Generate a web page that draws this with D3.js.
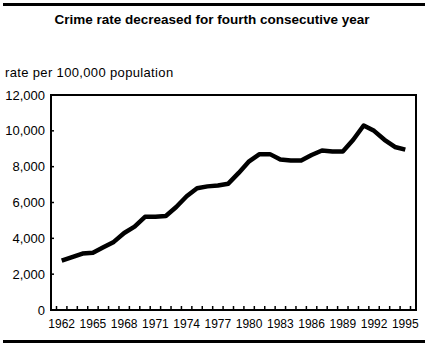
<!DOCTYPE html>
<html>
<head>
<meta charset="utf-8">
<script src="https://cdn.jsdelivr.net/npm/d3@7"></script>
<style>
  html, body { margin: 0; padding: 0; background: #fff; }
  svg { display: block; }
  text { font-family: "Liberation Sans", Arial, sans-serif; fill: #000; }
</style>
</head>
<body>
<svg id="chart" width="425" height="349"></svg>
<script>
const titleText = "Crime rate decreased for fourth consecutive year";
const unitText = "rate per 100,000 population";
const years = d3.range(1962, 1996);
const rates = [2750, 2950, 3150, 3200, 3500, 3800, 4300, 4650, 5200, 5200,
               5250, 5750, 6350, 6800, 6900, 6950, 7050, 7650, 8300, 8700,
               8700, 8400, 8350, 8350, 8650, 8900, 8850, 8850, 9500, 10300,
               10000, 9500, 9100, 8950];
const yTicks = [0, 2000, 4000, 6000, 8000, 10000, 12000];
const xLabelYears = [1962, 1965, 1968, 1971, 1974, 1977, 1980, 1983, 1986, 1989, 1992, 1995];

const svg = d3.select("#chart");
const W = 425, H = 349;
const plot = { left: 51, right: 416, top: 95, bottom: 310 };

// rules
svg.append("rect").attr("x", 3).attr("y", 3).attr("width", W - 3).attr("height", 3).attr("fill", "#000");
svg.append("rect").attr("x", 3).attr("y", 340).attr("width", W - 3).attr("height", 3).attr("fill", "#000");

svg.append("text").attr("x", 212).attr("y", 24).attr("text-anchor", "middle")
  .style("font-size", "13.5px").style("font-weight", "bold").text(titleText);
svg.append("text").attr("x", 5).attr("y", 77).style("font-size", "13px")
  .style("letter-spacing", "0.35px").text(unitText);

const x = d3.scaleBand().domain(years).range([56.5, 410.5]).paddingInner(0).paddingOuter(0);
const y = d3.scaleLinear().domain([0, 12000]).range([plot.bottom, plot.top]);

// frame
svg.append("rect").attr("x", plot.left).attr("y", plot.top)
  .attr("width", plot.right - plot.left).attr("height", plot.bottom - plot.top)
  .attr("fill", "none").attr("stroke", "#000").attr("stroke-width", 2);

// y axis ticks (inward) and labels
const gy = svg.append("g");
gy.selectAll("line").data(yTicks.slice(1, -1)).join("line")
  .attr("x1", plot.left).attr("x2", plot.left + 3)
  .attr("y1", d => y(d)).attr("y2", d => y(d))
  .attr("stroke", "#000").attr("stroke-width", 1.5);
gy.selectAll("text").data(yTicks).join("text")
  .attr("x", 45).attr("y", d => y(d) + 4.5).attr("text-anchor", "end")
  .style("font-size", "13px").text(d => d3.format(",")(d));

// x ticks at band edges
const edges = years.map(d => x(d)).concat([x(years[years.length - 1]) + x.bandwidth()]);
const gx = svg.append("g");
gx.selectAll("line").data(edges).join("line")
  .attr("x1", d => d).attr("x2", d => d)
  .attr("y1", plot.bottom).attr("y2", plot.bottom - 4)
  .attr("stroke", "#000").attr("stroke-width", 1.5);
gx.selectAll("text").data(xLabelYears).join("text")
  .attr("x", d => x(d) + x.bandwidth() / 2).attr("y", 328)
  .attr("text-anchor", "middle").style("font-size", "12px").text(d => d);

// line
const line = d3.line()
  .x((d, i) => x(years[i]) + x.bandwidth() / 2)
  .y(d => y(d));
svg.append("path").datum(rates).attr("d", line)
  .attr("fill", "none").attr("stroke", "#000").attr("stroke-width", 4.5)
  .attr("stroke-linejoin", "round");
</script>
</body>
</html>
